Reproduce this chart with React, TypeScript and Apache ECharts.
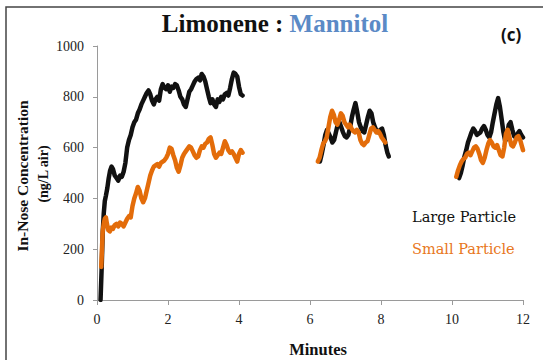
import React, { useEffect, useRef } from "react";
import * as echarts from "echarts";

// Time (minutes) / concentration (ng/L air) pairs, one list per recorded stretch
const largeSeg1: [number, number][] = [
  [0.10, 0], [0.13, 120], [0.16, 260], [0.19, 340], [0.22, 390], [0.25, 410], [0.29, 440],
  [0.33, 480], [0.37, 510], [0.41, 525], [0.45, 515], [0.50, 490], [0.55, 480], [0.60, 470],
  [0.65, 490], [0.70, 485], [0.75, 505], [0.80, 540], [0.85, 600], [0.90, 630], [0.95, 650],
  [1.00, 680], [1.05, 700], [1.10, 710], [1.15, 735], [1.20, 750], [1.25, 770], [1.30, 785],
  [1.35, 800], [1.40, 815], [1.45, 825], [1.50, 810], [1.55, 785], [1.60, 770], [1.65, 790],
  [1.70, 800], [1.75, 785], [1.80, 830], [1.85, 850], [1.90, 835], [1.95, 830], [2.00, 845],
  [2.05, 820], [2.10, 840], [2.15, 835], [2.20, 850], [2.25, 845], [2.30, 825], [2.35, 800],
  [2.40, 790], [2.45, 770], [2.50, 760], [2.55, 790], [2.60, 820], [2.65, 830], [2.70, 845],
  [2.75, 860], [2.80, 870], [2.85, 875], [2.90, 865], [2.95, 890], [3.00, 880], [3.05, 860],
  [3.10, 830], [3.15, 800], [3.20, 775], [3.25, 790], [3.30, 770], [3.35, 760], [3.40, 790],
  [3.45, 780], [3.50, 800], [3.55, 790], [3.60, 810], [3.65, 815], [3.70, 805], [3.75, 835],
  [3.80, 870], [3.85, 895], [3.90, 890], [3.95, 880], [4.00, 840], [4.05, 810], [4.10, 805],
];
const largeSeg2: [number, number][] = [
  [6.28, 545], [6.33, 575], [6.38, 610], [6.43, 650], [6.48, 670], [6.53, 655], [6.58, 640],
  [6.63, 620], [6.68, 630], [6.73, 660], [6.78, 690], [6.83, 700], [6.88, 680], [6.93, 660],
  [6.98, 645], [7.03, 640], [7.08, 650], [7.13, 680], [7.18, 720], [7.23, 750], [7.28, 775],
  [7.33, 740], [7.38, 700], [7.43, 680], [7.48, 665], [7.53, 660], [7.58, 690], [7.63, 720],
  [7.68, 745], [7.73, 735], [7.78, 700], [7.83, 680], [7.88, 665], [7.93, 660], [7.98, 670],
  [8.03, 675], [8.08, 650], [8.13, 610], [8.18, 580], [8.22, 565],
];
const largeSeg3: [number, number][] = [
  [10.20, 480], [10.25, 500], [10.30, 530], [10.35, 565], [10.40, 590], [10.45, 620],
  [10.50, 640], [10.55, 660], [10.60, 675], [10.65, 665], [10.70, 650], [10.75, 655],
  [10.80, 660], [10.85, 675], [10.90, 685], [10.95, 670], [11.00, 650], [11.05, 640],
  [11.10, 660], [11.15, 700], [11.20, 735], [11.25, 770], [11.30, 795], [11.35, 760],
  [11.40, 710], [11.45, 660], [11.50, 625], [11.55, 650], [11.60, 690], [11.65, 700],
  [11.70, 670], [11.75, 645], [11.80, 640], [11.85, 655], [11.90, 665], [11.95, 650],
  [12.00, 640],
];

const smallSeg1: [number, number][] = [
  [0.12, 130], [0.14, 200], [0.16, 270], [0.19, 300], [0.22, 320], [0.25, 325], [0.28, 300],
  [0.32, 275], [0.36, 270], [0.40, 285], [0.45, 280], [0.50, 295], [0.55, 300], [0.60, 290],
  [0.65, 305], [0.70, 300], [0.75, 290], [0.80, 305], [0.85, 320], [0.90, 330], [0.95, 325],
  [1.00, 370], [1.05, 400], [1.10, 420], [1.15, 445], [1.20, 430], [1.25, 400], [1.30, 385],
  [1.35, 400], [1.40, 430], [1.45, 460], [1.50, 490], [1.55, 510], [1.60, 525], [1.65, 530],
  [1.70, 535], [1.75, 525], [1.80, 540], [1.85, 545], [1.90, 550], [1.95, 560], [2.00, 575],
  [2.05, 600], [2.10, 595], [2.15, 570], [2.20, 550], [2.25, 520], [2.30, 505], [2.35, 530],
  [2.40, 560], [2.45, 575], [2.50, 585], [2.55, 595], [2.60, 605], [2.65, 600], [2.70, 585],
  [2.75, 570], [2.80, 560], [2.85, 565], [2.90, 590], [2.95, 605], [3.00, 600], [3.05, 615],
  [3.10, 620], [3.15, 635], [3.20, 640], [3.25, 610], [3.30, 575], [3.35, 560], [3.40, 570],
  [3.45, 580], [3.50, 575], [3.55, 600], [3.60, 625], [3.65, 610], [3.70, 590], [3.75, 580],
  [3.80, 585], [3.85, 575], [3.90, 560], [3.95, 545], [4.00, 575], [4.05, 590], [4.10, 580],
];
const smallSeg2: [number, number][] = [
  [6.22, 545], [6.27, 560], [6.32, 590], [6.37, 615], [6.42, 625], [6.47, 640], [6.52, 680],
  [6.57, 720], [6.62, 745], [6.67, 730], [6.72, 700], [6.77, 690], [6.82, 710], [6.87, 735],
  [6.92, 725], [6.97, 700], [7.02, 690], [7.07, 680], [7.12, 690], [7.17, 675], [7.22, 665],
  [7.27, 660], [7.32, 670], [7.37, 660], [7.42, 630], [7.47, 615], [7.52, 610], [7.57, 620],
  [7.62, 625], [7.67, 650], [7.72, 675], [7.77, 680], [7.82, 670], [7.87, 660], [7.92, 665],
  [7.97, 655], [8.02, 640], [8.07, 630], [8.12, 620],
];
const smallSeg3: [number, number][] = [
  [10.12, 485], [10.17, 510], [10.22, 530], [10.27, 545], [10.32, 555], [10.37, 560],
  [10.42, 575], [10.47, 580], [10.52, 570], [10.57, 585], [10.62, 600], [10.67, 605],
  [10.72, 595], [10.77, 575], [10.82, 550], [10.87, 540], [10.92, 560], [10.97, 590],
  [11.02, 615], [11.07, 630], [11.12, 620], [11.17, 605], [11.22, 600], [11.27, 610],
  [11.32, 590], [11.37, 570], [11.42, 565], [11.47, 600], [11.52, 655], [11.57, 670],
  [11.62, 640], [11.67, 610], [11.72, 605], [11.77, 620], [11.82, 640], [11.87, 645],
  [11.92, 630], [11.97, 605], [12.00, 590],
];

const largeSegments = [largeSeg1, largeSeg2, largeSeg3];
const smallSegments = [smallSeg1, smallSeg2, smallSeg3];

const SERIF = "Liberation Serif";
const BLACK = "#111111";
const ORANGE = "#E36C0A";
const BLUE = "#5B8AC6";

export default function App() {
  const ref = useRef<HTMLDivElement>(null);

  useEffect(() => {
    if (!ref.current) return;
    const chart = echarts.init(ref.current, null, { renderer: "svg" });

    const lineSeries = (name: string, data: [number, number][], color: string, z: number) => ({
      name,
      type: "line",
      data,
      showSymbol: false,
      symbol: "none",
      z,
      lineStyle: { color, width: 4.5, join: "round", cap: "round" },
    });

    const label = (text: string, x: number, y: number, font: string, fill: string, rot = 0) => ({
      type: "text",
      x,
      y,
      rotation: rot,
      style: { text, font, fill, align: "center", verticalAlign: "middle" },
    });

    const tickLabel = {
      color: "#222",
      fontFamily: SERIF,
      fontSize: 14,
      margin: 13,
      formatter: (v: number) => String(v),
    };

    chart.setOption({
      animation: false,
      backgroundColor: "#ffffff",
      textStyle: { fontFamily: SERIF },
      grid: { left: 97, top: 46, width: 426, height: 254, containLabel: false },
      xAxis: {
        type: "value",
        min: 0,
        max: 12,
        interval: 2,
        axisLine: { show: true, lineStyle: { color: "#9a9a9a", width: 1 } },
        axisTick: { show: true, length: 5, lineStyle: { color: "#9a9a9a" } },
        splitLine: { show: false },
        axisLabel: { ...tickLabel, margin: 12 },
      },
      yAxis: {
        type: "value",
        min: 0,
        max: 1000,
        interval: 200,
        axisLine: { show: true, lineStyle: { color: "#9a9a9a", width: 1 } },
        axisTick: { show: true, length: 4, lineStyle: { color: "#9a9a9a" } },
        splitLine: { show: false },
        axisLabel: tickLabel,
      },
      series: [
        ...largeSegments.map((s) => lineSeries("Large Particle", s, BLACK, 2)),
        ...smallSegments.map((s) => lineSeries("Small Particle", s, ORANGE, 3)),
      ],
      graphic: [
        {
          type: "rect",
          shape: { x: 6, y: 7, width: 700, height: 500 },
          style: { fill: "none", stroke: "#444", lineWidth: 1.5 },
          silent: true,
          z: 100,
        },
        {
          type: "text",
          x: 275,
          y: 23,
          style: {
            text: "{a|Limonene : }{b|Mannitol}",
            align: "center",
            verticalAlign: "middle",
            rich: {
              a: { fill: BLACK, font: 'bold 25px "Liberation Serif"' },
              b: { fill: BLUE, font: 'bold 25px "Liberation Serif"' },
            },
          },
        },
        label("(c)", 511, 34, 'bold 17px "Open Sans"', BLACK),
        label("In-Nose Concentration", 22, 176, 'bold 15.5px "Liberation Serif"', BLACK, Math.PI / 2),
        label("(ng/L air)", 43, 174, 'bold 14px "Liberation Serif"', BLACK, Math.PI / 2),
        label("Minutes", 318, 349, 'bold 16.5px "Liberation Serif"', BLACK),
        {
          type: "text",
          x: 412,
          y: 217,
          style: {
            text: "Large Particle",
            align: "left",
            verticalAlign: "middle",
            fill: BLACK,
            font: '14.5px "DejaVu Serif"',
          },
        },
        {
          type: "text",
          x: 412,
          y: 249,
          style: {
            text: "Small Particle",
            align: "left",
            verticalAlign: "middle",
            fill: "#E87722",
            font: '14.5px "DejaVu Serif"',
          },
        },
      ],
    });

    return () => chart.dispose();
  }, []);

  return (
    <div
      ref={ref}
      style={{ position: "fixed", left: 0, top: 0, width: 543, height: 360 }}
    />
  );
}
